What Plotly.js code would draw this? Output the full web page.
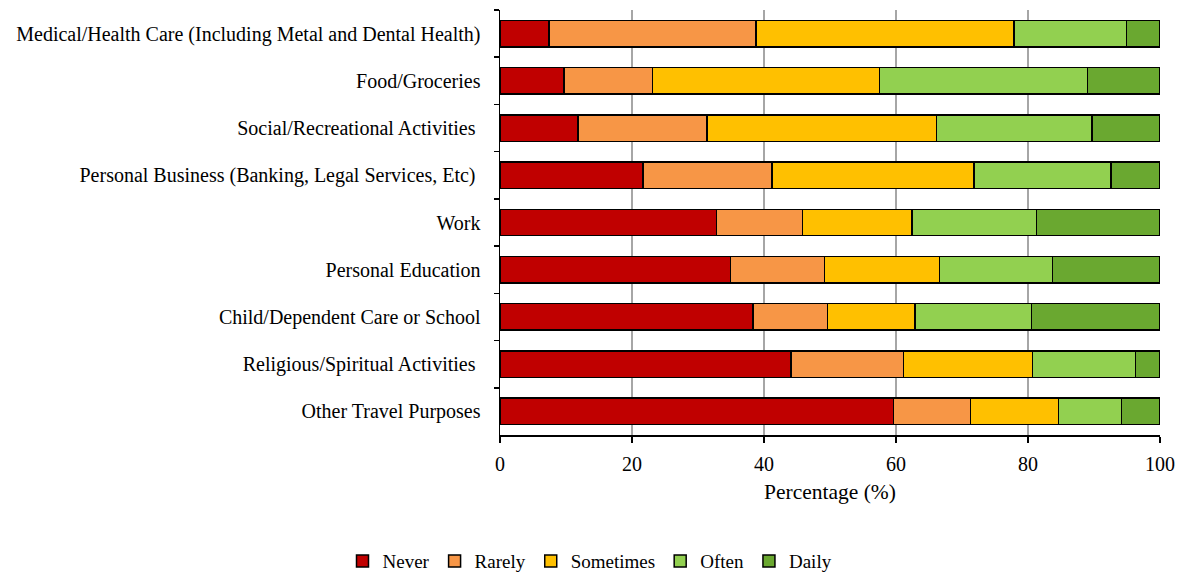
<!DOCTYPE html>
<html>
<head>
<meta charset="utf-8">
<script src="https://cdn.plot.ly/plotly-3.0.1.min.js"></script>
<style>html,body{margin:0;padding:0;background:#fff;}#chart{width:1180px;height:575px;}</style>
</head>
<body>
<div id="chart"></div>
<script>
const categories = [
  "Medical/Health Care (Including Metal and Dental Health)",
  "Food/Groceries",
  "Social/Recreational Activities ",
  "Personal Business (Banking, Legal Services, Etc) ",
  "Work",
  "Personal Education",
  "Child/Dependent Care or School",
  "Religious/Spiritual Activities ",
  "Other Travel Purposes"
];
const never     = [7.4, 9.7, 11.8, 21.7, 32.8, 34.9, 38.3, 44.1, 59.6];
const rarely    = [31.4, 13.4, 19.6, 19.5, 13.0, 14.3, 11.3, 17.0, 11.7];
const sometimes = [39.1, 34.4, 34.7, 30.6, 16.6, 17.4, 13.3, 19.6, 13.3];
const often     = [17.0, 31.5, 23.6, 20.8, 18.9, 17.1, 17.6, 15.6, 9.6];
const daily     = [5.1, 11.0, 10.3, 7.4, 18.7, 16.3, 19.5, 3.7, 5.8];
const seriesNames = ["Never", "Rarely", "Sometimes", "Often", "Daily"];
const seriesValues = [never, rarely, sometimes, often, daily];
const colors = ["#C00000", "#F79646", "#FFC000", "#92D050", "#6AA830"];
const xTicks = [0, 20, 40, 60, 80, 100];

const traces = seriesNames.map((n, i) => ({
  type: 'bar',
  orientation: 'h',
  name: n,
  y: categories,
  x: seriesValues[i],
  marker: {color: colors[i], line: {color: '#000000', width: 1.5}},
  hoverinfo: 'x+name'
}));

const fam = '"Liberation Serif", "Times New Roman", serif';
const font = {family: fam, color: '#000', size: 20};

const layout = {
  width: 1180, height: 575,
  margin: {l: 500, r: 20, t: 10, b: 140},
  paper_bgcolor: '#fff', plot_bgcolor: '#fff',
  barmode: 'stack',
  bargap: 0.44,
  font: font,
  showlegend: true,
  legend: {
    orientation: 'h', xref: 'container', yref: 'container',
    x: 0.5, xanchor: 'center', y: 0.024, yanchor: 'middle',
    font: {family: fam, color: '#000', size: 19}, itemwidth: 30, traceorder: 'normal', tracegroupgap: 0
  },
  xaxis: {
    range: [0, 100], tickvals: xTicks, ticktext: xTicks.map(String),
    showgrid: true, gridcolor: '#A6A6A6', gridwidth: 1.5,
    showline: true, linecolor: '#000', linewidth: 1.5,
    ticks: 'outside', ticklen: 6, tickcolor: '#000', tickwidth: 1.5,
    ticklabelstandoff: 4,
    zeroline: false, fixedrange: true,
    tickfont: font,
    title: {text: 'Percentage (%)', font: {family: fam, size: 21.5, color: '#000'}, standoff: 10}
  },
  yaxis: {
    type: 'category', categoryorder: 'array', categoryarray: categories,
    autorange: 'reversed',
    showline: true, linecolor: '#000', linewidth: 1.5,
    ticks: 'outside', ticklen: 5, tickcolor: '#000', tickwidth: 1.5,
    tickson: 'boundaries', showgrid: false, zeroline: false,
    tickfont: font, ticklabelstandoff: 14, fixedrange: true
  }
};

Plotly.newPlot('chart', traces, layout, {displayModeBar: false, staticPlot: true});
</script>
</body>
</html>
